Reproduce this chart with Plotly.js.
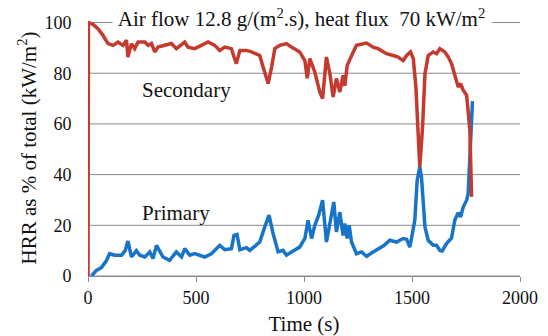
<!DOCTYPE html>
<html>
<head>
<meta charset="utf-8">
<script src="https://cdn.plot.ly/plotly-3.0.1.min.js"></script>
<style>
html,body{margin:0;padding:0;background:#fff;}
#chart{width:548px;height:336px;}
#chart .xtick text, #chart .ytick text{font-family:'Liberation Serif',serif !important;font-size:18px !important;fill:#111 !important;}
#chart text.xtitle, #chart text.ytitle{font-family:'Liberation Serif',serif !important;font-size:21px !important;fill:#111 !important;}
#done{position:absolute;left:540px;top:328px;font:6px monospace;color:#fff;}
</style>
</head>
<body>
<div id="chart"></div>
<div id="done"></div>
<script>
// Primary HRR (% of total) vs time (s)
const primaryTime = [16,39,62,85,100,124,155,172,185,201,224,240,263,286,301,317,347,378,409,433,448,471,494,540,571,610,633,664,676,690,703,734,749,795,818,838,857,880,903,919,942,980,1004,1019,1035,1050,1068,1086,1104,1120,1138,1150,1166,1181,1189,1200,1209,1220,1243,1266,1290,1320,1343,1370,1397,1428,1459,1475,1490,1513,1524,1536,1544,1552,1560,1575,1598,1614,1629,1640,1660,1683,1698,1714,1725,1737,1753,1760,1768,1776,1780];
const primaryHRR = [0,2.2,3.3,6,8.8,8.2,8.2,10,13.8,7.5,10,8.2,7.5,9.5,6.9,12.1,7.5,6.2,9.5,7.5,10.8,8.2,8.8,7.5,8.8,12.1,10.4,10.8,16,16.4,10.4,11.2,10.1,13.4,19.3,24,16.7,9.5,10.1,8.2,9.5,11.4,14.8,22,14.8,20,24,29.9,13.4,20.7,29.2,17.4,25.2,16,20.7,14.8,20,13.4,8.8,9.5,7.8,9.5,10.8,12,14.1,13.4,14.8,14.5,11.4,22,37.8,43,39,31,19.3,14.1,12.1,12.1,10.1,9.9,12.8,15,22,25,23.3,27.2,29.9,32.5,48,68.6,69];

// Secondary HRR (% of total) vs time (s)
const secondaryTime = [0,2,23,46,69,93,116,139,162,178,185,201,216,232,263,278,294,309,324,355,386,409,448,463,494,525,556,587,610,633,664,676,687,703,734,757,780,795,811,834,850,865,888,919,942,980,1004,1015,1027,1050,1073,1086,1104,1120,1135,1150,1166,1181,1189,1200,1228,1243,1290,1320,1343,1382,1413,1436,1459,1475,1493,1506,1518,1529,1536,1549,1560,1575,1598,1614,1629,1652,1668,1683,1698,1714,1725,1737,1753,1768,1776];
const secondaryHRR = [0,100,99.3,97.6,95,91.7,91,92.3,91,93,86.4,91.7,89.7,92.3,92.3,91,91.7,88.4,90.3,91,91.7,89.7,92.3,90.3,89.7,91,92.3,91,89,90.3,89.7,86.4,83.8,89,89,88.4,87.7,87,82.4,75.9,82.4,89.7,91,91.7,90.3,88.4,85,78,85.8,80.5,72.6,70,86.4,79.8,70.6,77.9,72.6,79.2,75,83.1,88.4,91,91.9,90.3,89.7,87.7,87,86.4,85,87,88.4,85.8,74.6,58.8,43,58.8,79.8,87,88.4,87.7,89.7,88.4,86.4,83.8,79.8,74.6,75.9,73.3,71.3,57.5,31.2];

const xTicks = [0,500,1000,1500,2000];
const yTicks = [0,20,40,60,80,100];
const seriesNames = ['Primary','Secondary'];

const FONT = 'Liberation Serif';
const GRID = '#8a8a8a';
const X_MIN = 0, X_MAX = 2000;
// the top gridline is interrupted behind the chart title
const TITLE_GAP = [114, 1870];

// horizontal gridlines, drawn through the axes' own scales
const gridX = [], gridY = [];
yTicks.forEach(function(v){
  if (v === yTicks[yTicks.length - 1]) {
    gridX.push(X_MIN, TITLE_GAP[0], null, TITLE_GAP[1], X_MAX, null);
    gridY.push(v, v, null, v, v, null);
  } else {
    gridX.push(X_MIN, X_MAX, null);
    gridY.push(v, v, null);
  }
});

const data = [
  {x: gridX, y: gridY, type: 'scatter', mode: 'lines', hoverinfo: 'skip', showlegend: false,
   line: {color: GRID, width: 1}, connectgaps: false},
  {x: primaryTime, y: primaryHRR, name: seriesNames[0], type: 'scatter', mode: 'lines',
   line: {color: '#1874C8', width: 3.5}},
  {x: secondaryTime, y: secondaryHRR, name: seriesNames[1], type: 'scatter', mode: 'lines',
   line: {color: '#C43A2E', width: 3.5}}
];

const layout = {
  width: 548, height: 336,
  margin: {l: 88, r: 28, t: 20, b: 60},
  showlegend: false,
  font: {family: FONT, color: '#111', size: 18},
  title: {text: 'Air flow 12.8 g/(m<sup>2</sup>.s), heat flux\u00a0\u00a070 kW/m<sup>2</sup>',
          font: {family: FONT, size: 21, color: '#111'},
          xref: 'container', yref: 'container', x: 301.5/548, y: 1 - 19/336,
          xanchor: 'center', yanchor: 'middle'},
  xaxis: {range: [X_MIN, X_MAX], tickvals: xTicks, showgrid: false, zeroline: false,
          showline: true, linecolor: GRID, ticks: 'outside', ticklen: 5, tickcolor: GRID,
          title: {text: 'Time (s)', font: {size: 21}}},
  yaxis: {range: [0, 101], tickvals: yTicks, showgrid: false, zeroline: false, showline: false,
          ticks: 'outside', ticklen: 12, tickcolor: 'rgba(255,255,255,0)',
          title: {text: 'HRR as % of total (kW/m<sup>2</sup>)', font: {size: 21}}},
  annotations: [
    {text: seriesNames[1], x: 239, y: 73.3, xref: 'x', yref: 'y', xanchor: 'left', yanchor: 'middle',
     showarrow: false, font: {family: FONT, size: 21, color: '#111'}},
    {text: seriesNames[0], x: 239, y: 24.7, xref: 'x', yref: 'y', xanchor: 'left', yanchor: 'middle',
     showarrow: false, font: {family: FONT, size: 21, color: '#111'}}
  ]
};

Plotly.newPlot('chart', data, layout, {displayModeBar: false}).then(function(gd){
  document.getElementById('done').textContent = '.';
  setTimeout(function(){ document.getElementById('done').textContent = '. '; }, 800);
});
</script>
</body>
</html>
